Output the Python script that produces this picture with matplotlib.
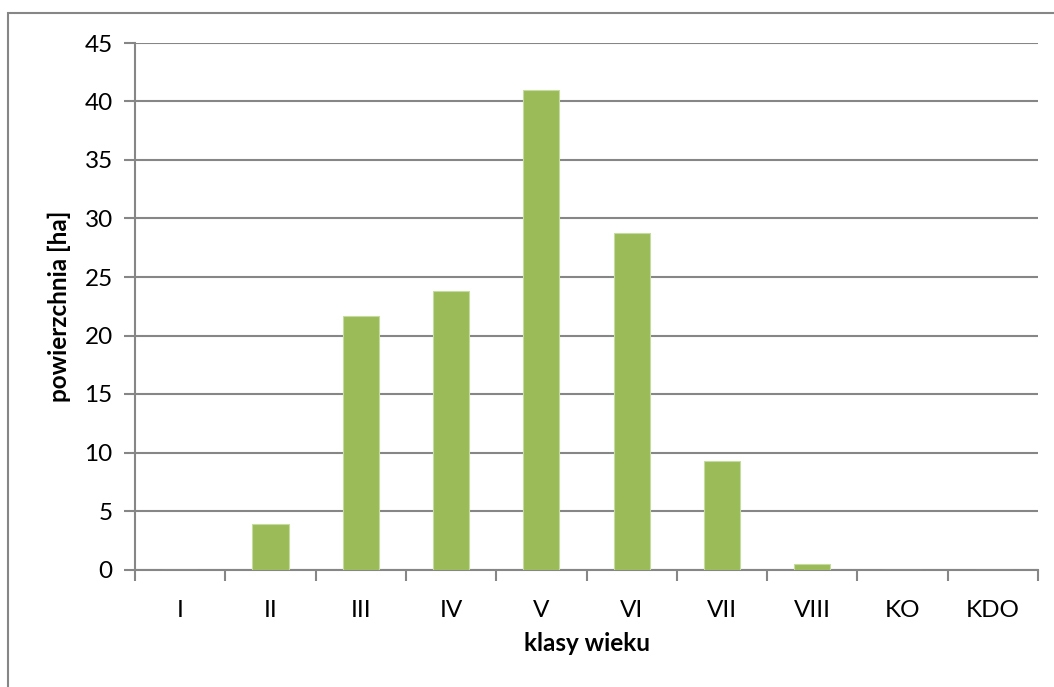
import matplotlib
matplotlib.use("Agg")
import matplotlib.pyplot as plt
from matplotlib.patches import Rectangle

# age classes and area per class [ha]
klasy = ["I", "II", "III", "IV", "V", "VI", "VII", "VIII", "KO", "KDO"]
powierzchnia = [0, 3.9, 21.7, 23.8, 41.0, 28.8, 9.3, 0.5, 0, 0]
y_ticks = [0, 5, 10, 15, 20, 25, 30, 35, 40, 45]

plt.rcParams['font.family'] = ['Lato', 'DejaVu Sans']

W, H = 1054, 687
fig = plt.figure(figsize=(W / 100, H / 100), dpi=100)
fig.patches.append(Rectangle((8 / W, -0.1), 1.2, 1 - 13 / H + 0.1, transform=fig.transFigure,
                             fill=False, edgecolor='#868686', linewidth=1.5))

ax = fig.add_axes([135 / W, 1 - 569.5 / H, (1038 - 135) / W, (569.5 - 43) / H])
x = list(range(len(klasy)))
ax.bar(x, powierzchnia, width=0.4, color='#9BBB59', edgecolor='#C6DBA0', linewidth=0.8, zorder=3)

ax.set_xlim(-0.5, len(klasy) - 0.5)
ax.set_ylim(0, 45)
ax.set_yticks(y_ticks)
ax.set_xticks([i - 0.5 for i in range(len(klasy) + 1)], minor=False)
ax.set_xticklabels([])
ax.set_xticks(x, minor=True)
ax.set_xticklabels(klasy, minor=True, fontsize=17.5)
ax.tick_params(axis='x', which='major', length=8, width=1.5, color='#868686', direction='out')
ax.tick_params(axis='x', which='minor', length=0, pad=22)
ax.tick_params(axis='y', length=8, width=1.5, color='#868686', labelsize=17.5, pad=8)

ax.grid(axis='y', color='#868686', linewidth=1.5, zorder=0)
for s in ['top', 'right']:
    ax.spines[s].set_visible(False)
for s in ['left', 'bottom']:
    ax.spines[s].set_color('#868686')
    ax.spines[s].set_linewidth(1.5)

ax.set_xlabel("klasy wieku", fontsize=17.5, fontweight='bold', labelpad=8)
ax.set_ylabel("powierzchnia [ha]", fontsize=17.5, fontweight='bold', labelpad=10)

fig.savefig("out.png", dpi=100)
